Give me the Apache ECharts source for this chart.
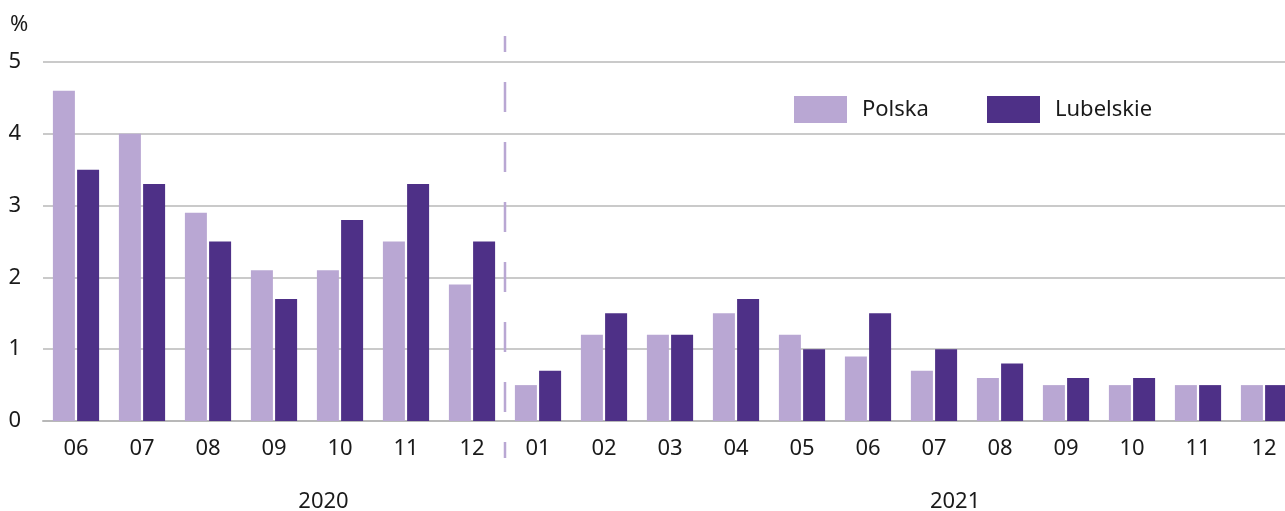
<!DOCTYPE html>
<html><head><meta charset="utf-8">
<script src="https://cdn.jsdelivr.net/npm/echarts@6/dist/echarts.min.js"></script>
<style>html,body{margin:0;padding:0;background:#fff}#c{width:1285px;height:511px}</style>
</head><body><div id="c"></div>
<script>
const categories = ['06','07','08','09','10','11','12','01','02','03','04','05','06','07','08','09','10','11','12'];
const polska =     [4.6, 4.0, 2.9, 2.1, 2.1, 2.5, 1.9, 0.5, 1.2, 1.2, 1.5, 1.2, 0.9, 0.7, 0.6, 0.5, 0.5, 0.5, 0.5];
const lubelskie =  [3.5, 3.3, 2.5, 1.7, 2.8, 3.3, 2.5, 0.7, 1.5, 1.2, 1.7, 1.0, 1.5, 1.0, 0.8, 0.6, 0.6, 0.5, 0.5];
const seriesNames = ['Polska', 'Lubelskie'];
const years = ['2020', '2021'];
const yTicks = [0, 1, 2, 3, 4, 5];

const FONT = '"Noto Sans", sans-serif';
const FS = 22;
const TXT = '#1a1a1a';
const chart = echarts.init(document.getElementById('c'));
const legendText = { fontSize: FS, color: TXT, fontFamily: FONT, padding: [0, 0, 0, 10] };
const option = {
  animation: false,
  textStyle: { fontFamily: FONT },
  grid: { left: 43, width: 1254, top: 62, bottom: 90, containLabel: false, outerBoundsMode: 'none' },
  legend: [
    { data: [seriesNames[0]], left: 789, top: 91, itemWidth: 53, itemHeight: 27, icon: 'rect', textStyle: legendText },
    { data: [seriesNames[1]], left: 982, top: 91, itemWidth: 53, itemHeight: 27, icon: 'rect', textStyle: legendText }
  ],
  xAxis: {
    type: 'category', data: categories,
    axisLine: { lineStyle: { color: '#b8b8b8', width: 2 } },
    axisTick: { show: false },
    axisLabel: { color: TXT, fontSize: FS, margin: 17, fontFamily: FONT }
  },
  yAxis: {
    type: 'value', min: yTicks[0], max: yTicks[yTicks.length - 1], interval: 1,
    axisLine: { show: false }, axisTick: { show: false },
    axisLabel: { color: TXT, fontSize: FS, margin: 22, fontFamily: FONT },
    splitLine: { lineStyle: { color: '#b8b8b8', width: 1.5 } }
  },
  series: [
    { name: seriesNames[0], type: 'bar', data: polska, barWidth: 22, barGap: '10%',
      itemStyle: { color: '#b9a7d3' } },
    { name: seriesNames[1], type: 'bar', data: lubelskie, barWidth: 22, barGap: '10%',
      itemStyle: { color: '#4e3087' } }
  ]
};
chart.setOption(option);

const x6 = chart.convertToPixel({ xAxisIndex: 0 }, 6);
const x7 = chart.convertToPixel({ xAxisIndex: 0 }, 7);
const band = x7 - x6;
const xDiv = (x6 + x7) / 2;
const x3 = chart.convertToPixel({ xAxisIndex: 0 }, 3);
const x13 = chart.convertToPixel({ xAxisIndex: 0 }, 13);
const yTop = chart.convertToPixel({ yAxisIndex: 0 }, 5);

chart.setOption({
  graphic: [
    { type: 'line', shape: { x1: xDiv, y1: 36, x2: xDiv, y2: 458 },
      style: { stroke: '#b9a7d3', lineWidth: 2.5, lineDash: [30, 30], lineDashOffset: 14 }, z: 10 },
    { type: 'text', x: 10, y: yTop - 37, style: { text: '%', fontSize: FS, fill: TXT, fontFamily: FONT, verticalAlign: 'middle' } },
    { type: 'text', x: x3 + 0.75 * band, y: 502, style: { text: years[0], fontSize: FS, fill: TXT, fontFamily: FONT, align: 'center', verticalAlign: 'middle' } },
    { type: 'text', x: x13 + 0.32 * band, y: 502, style: { text: years[1], fontSize: FS, fill: TXT, fontFamily: FONT, align: 'center', verticalAlign: 'middle' } }
  ]
});
</script></body></html>
